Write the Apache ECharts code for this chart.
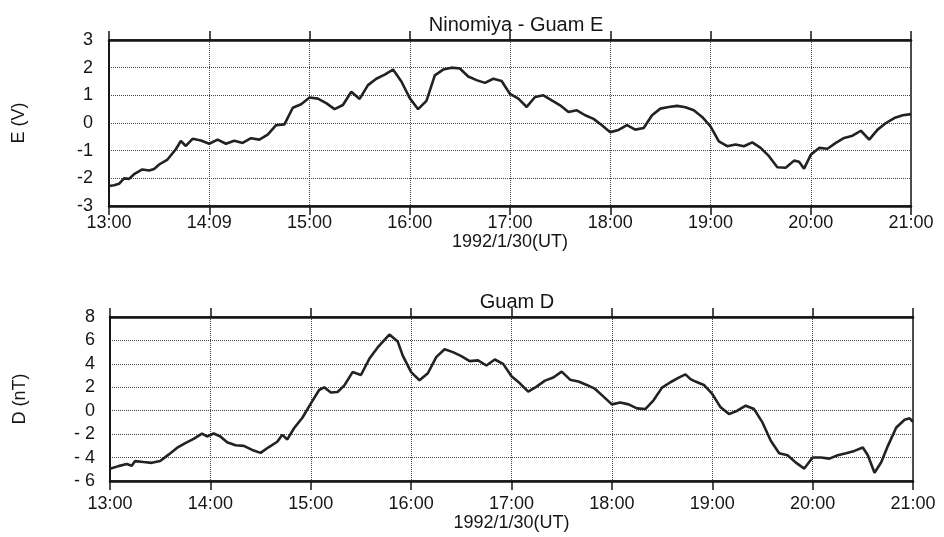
<!DOCTYPE html>
<html>
<head>
<meta charset="utf-8">
<script src="https://cdn.jsdelivr.net/npm/echarts@6/dist/echarts.min.js"></script>
<style>
  html, body { margin: 0; padding: 0; background: #fff; }
  #main { width: 944px; height: 537px; }
</style>
</head>
<body>
<div id="main"></div>
<script type="text/javascript">
    // 数据：分钟数（从 13:00 起）和对应的值
    var eTime = [0, 3, 6, 9, 12, 15, 20, 24, 27, 30, 35, 40, 43, 46, 50, 55, 60, 65, 70, 75, 80, 85, 90, 95,
        100, 105, 110, 115, 120, 125, 130, 135, 140, 145, 150, 155, 160, 165, 170, 175, 180, 185, 190, 195,
        200, 205, 210, 215, 220, 225, 230, 235, 240, 245, 250, 255, 260, 265, 270, 275, 280, 285, 290, 295,
        300, 305, 310, 315, 320, 325, 330, 335, 340, 345, 350, 355, 360, 365, 370, 375, 380, 385, 390, 395,
        400, 405, 410, 413, 416, 420, 425, 430, 435, 440, 445, 450, 455, 460, 465, 470, 475, 480];
    var eVal = [-2.28, -2.25, -2.2, -2.0, -2.02, -1.85, -1.68, -1.72, -1.66, -1.5, -1.32, -0.95, -0.65, -0.83, -0.57, -0.63, -0.75, -0.6, -0.75, -0.64, -0.72, -0.55, -0.6, -0.42,
        -0.08, -0.05, 0.55, 0.68, 0.92, 0.88, 0.72, 0.5, 0.65, 1.13, 0.87, 1.37, 1.6, 1.75, 1.93, 1.5, 0.9, 0.5, 0.8, 1.72,
        1.93, 2.0, 1.97, 1.68, 1.55, 1.45, 1.6, 1.52, 1.05, 0.88, 0.58, 0.94, 1.0, 0.82, 0.64, 0.4, 0.46, 0.28, 0.15, -0.08,
        -0.33, -0.25, -0.08, -0.24, -0.18, 0.28, 0.52, 0.58, 0.62, 0.57, 0.46, 0.22, -0.12, -0.66, -0.84, -0.78, -0.84, -0.7, -0.9, -1.2,
        -1.6, -1.62, -1.36, -1.4, -1.65, -1.15, -0.9, -0.93, -0.72, -0.54, -0.46, -0.28, -0.6, -0.24, 0.0, 0.18, 0.28, 0.32];

    var dTime = [0, 5, 10, 13, 15, 20, 25, 30, 35, 40, 45, 50, 55, 58, 62, 66, 70, 75, 80, 85, 90, 95,
        100, 103, 106, 110, 115, 120, 125, 128, 132, 136, 140, 145, 150, 155, 160, 167, 172, 175, 180, 185, 190, 195,
        200, 205, 210, 215, 220, 225, 230, 235, 240, 245, 250, 255, 260, 265, 270, 275, 280, 285, 290, 295,
        300, 305, 310, 315, 320, 325, 330, 335, 340, 344, 347, 350, 355, 360, 365, 370, 375, 380, 385, 390, 395,
        400, 405, 410, 415, 420, 425, 430, 435, 440, 445, 450, 453, 457, 461, 465, 470, 475, 478, 480];
    var dVal = [-4.96, -4.73, -4.55, -4.7, -4.3, -4.38, -4.45, -4.3, -3.75, -3.18, -2.76, -2.4, -1.95, -2.2, -1.95, -2.2, -2.7, -2.95, -3.0, -3.35, -3.6, -3.1,
        -2.65, -2.06, -2.45, -1.5, -0.6, 0.6, 1.77, 2.0, 1.55, 1.6, 2.14, 3.3, 3.05, 4.43, 5.4, 6.5, 5.9, 4.7, 3.3, 2.6, 3.2, 4.57,
        5.25, 5.0, 4.66, 4.23, 4.3, 3.86, 4.37, 4.0, 2.95, 2.34, 1.63, 2.06, 2.57, 2.83, 3.34, 2.65, 2.49, 2.2, 1.86, 1.2,
        0.54, 0.71, 0.54, 0.2, 0.14, 0.91, 1.97, 2.43, 2.83, 3.1, 2.7, 2.49, 2.2, 1.43, 0.29, -0.29, 0.0, 0.43, 0.14, -1.0, -2.57,
        -3.63, -3.8, -4.43, -4.94, -4.0, -4.0, -4.09, -3.8, -3.63, -3.43, -3.14, -3.8, -5.29, -4.4, -3.0, -1.43, -0.77, -0.65, -0.95];

    // 刻度标签（原图上方图为 14:09）
    var eTickLabels = ['13:00', '14:09', '15:00', '16:00', '17:00', '18:00', '19:00', '20:00', '21:00'];
    var dTickLabels = ['13:00', '14:00', '15:00', '16:00', '17:00', '18:00', '19:00', '20:00', '21:00'];

    function pairs(ts, vs) {
        var out = [];
        for (var i = 0; i < ts.length; i++) out.push([ts[i], vs[i]]);
        return out;
    }

    var ink = '#151515';
    var font = 'Liberation Sans';

    function bottomX(gridIndex, labels, gap, margin) {
        return {
            type: 'value', gridIndex: gridIndex, position: 'bottom',
            min: 0, max: 480, interval: 60,
            name: '1992/1/30(UT)', nameLocation: 'middle', nameGap: gap,
            nameTextStyle: { color: ink, fontSize: 18, fontFamily: font },
            axisLine: { show: true, onZero: false, lineStyle: { color: ink, width: 2.5 } },
            axisTick: { show: true, inside: false, length: 9, lineStyle: { color: ink, width: 1.5 } },
            axisLabel: {
                color: ink, fontSize: 18, fontFamily: font, margin: margin,
                formatter: function (v) { return labels[Math.round(v / 60)]; }
            },
            splitLine: { show: true, lineStyle: { color: '#444', type: 'dotted', width: 1 } }
        };
    }
    function topX(gridIndex) {
        return {
            type: 'value', gridIndex: gridIndex, position: 'top',
            min: 0, max: 480, interval: 60,
            axisLine: { show: true, onZero: false, lineStyle: { color: ink, width: 2.5 } },
            axisTick: { show: true, inside: false, length: 9, lineStyle: { color: ink, width: 1.5 } },
            axisLabel: { show: false },
            splitLine: { show: false }
        };
    }

    var myChart = echarts.init(document.getElementById('main'));
    var option = {
        animation: false,
        backgroundColor: '#fff',
        title: [
            { text: 'Ninomiya - Guam E', left: 511, top: 10, textAlign: 'center',
              textStyle: { color: ink, fontSize: 20, fontWeight: 'normal', fontFamily: font } },
            { text: 'Guam D', left: 512, top: 287, textAlign: 'center',
              textStyle: { color: ink, fontSize: 20, fontWeight: 'normal', fontFamily: font } }
        ],
        grid: [
            { left: 109, top: 40, width: 802, height: 166, show: true, borderColor: ink, borderWidth: 1.5 },
            { left: 110, top: 317, width: 803, height: 164, show: true, borderColor: ink, borderWidth: 1.5 }
        ],
        xAxis: [bottomX(0, eTickLabels, 27, 8), topX(0), bottomX(1, dTickLabels, 30, 14), topX(1)],
        yAxis: [
            {
                type: 'value', gridIndex: 0, min: -3, max: 3, interval: 1,
                name: 'E (V)', nameLocation: 'middle', nameGap: 81, nameRotate: 90,
                nameTextStyle: { color: ink, fontSize: 18, fontFamily: font },
                axisLine: { show: true, onZero: false, lineStyle: { color: ink, width: 2 } },
                axisTick: { show: false },
                axisLabel: { color: ink, fontSize: 18, fontFamily: font, margin: 16 },
                splitLine: { show: true, lineStyle: { color: '#444', type: 'dotted', width: 1 } }
            },
            {
                type: 'value', gridIndex: 1, min: -6, max: 8, interval: 2,
                name: 'D (nT)', nameLocation: 'middle', nameGap: 81, nameRotate: 90,
                nameTextStyle: { color: ink, fontSize: 18, fontFamily: font },
                axisLine: { show: true, onZero: false, lineStyle: { color: ink, width: 2 } },
                axisTick: { show: false },
                axisLabel: {
                    color: ink, fontSize: 18, fontFamily: font, margin: 15,
                    formatter: function (v) { return v < 0 ? '- ' + (-v) : String(v); }
                },
                splitLine: { show: true, lineStyle: { color: '#444', type: 'dotted', width: 1 } }
            }
        ],
        series: [
            {
                name: 'E', type: 'line', xAxisIndex: 0, yAxisIndex: 0,
                data: pairs(eTime, eVal), showSymbol: false,
                lineStyle: { color: '#222', width: 2.6 }
            },
            {
                name: 'D', type: 'line', xAxisIndex: 2, yAxisIndex: 1,
                data: pairs(dTime, dVal), showSymbol: false,
                lineStyle: { color: '#222', width: 2.6 }
            }
        ]
    };
    myChart.setOption(option);
</script>
</body>
</html>
